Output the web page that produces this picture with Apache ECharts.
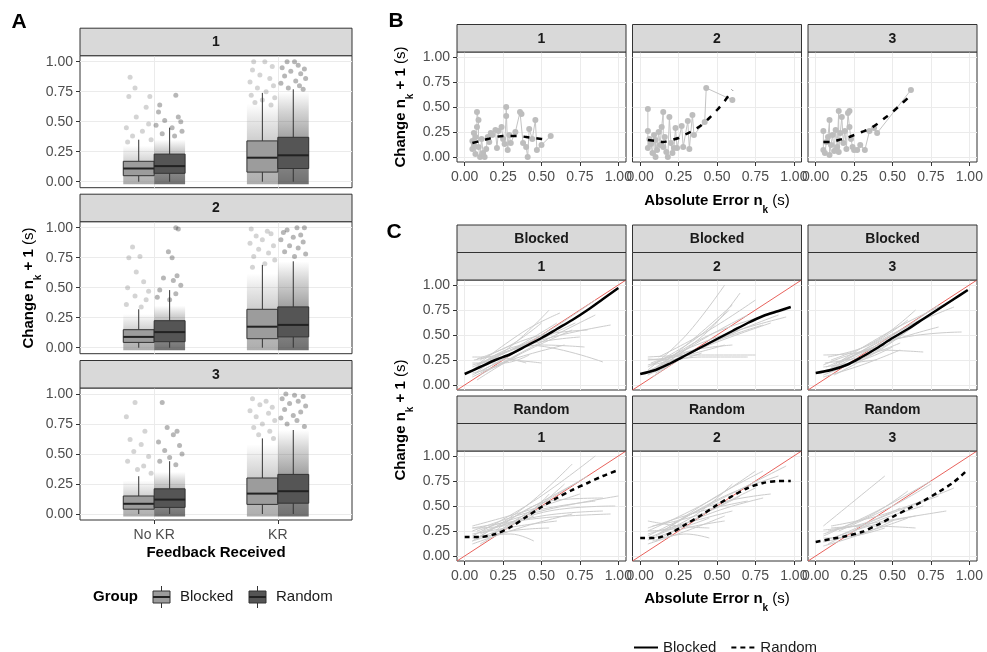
<!DOCTYPE html>
<html>
<head>
<meta charset="utf-8">
<title>Change vs absolute error</title>
<script src="https://cdn.jsdelivr.net/npm/echarts@6/dist/echarts.min.js"></script>
<style>
html, body { margin: 0; padding: 0; background: #ffffff; }
#chart { width: 987px; height: 652px; }
</style>
</head>
<body>
<div id="chart"></div>
<script>
// ---------------- data ----------------
const sessions = ['1', '2', '3'];
const groups = ['Blocked', 'Random'];
const feedback = ['No KR', 'KR'];
const unitTicks = [0, 0.25, 0.5, 0.75, 1];

// Panel A box summaries [lower whisker, Q1, median, Q3, upper whisker]
// order: No KR/Blocked, No KR/Random, KR/Blocked, KR/Random
const boxSession1 = [[0, 0.05, 0.11, 0.17, 0.35], [0, 0.07, 0.13, 0.23, 0.45], [0, 0.08, 0.20, 0.34, 0.74], [0, 0.11, 0.22, 0.37, 0.77]];
const boxSession2 = [[0, 0.044, 0.09, 0.15, 0.32], [0, 0.05, 0.13, 0.225, 0.48], [0, 0.075, 0.175, 0.32, 0.69], [0, 0.09, 0.19, 0.34, 0.72]];
const boxSession3 = [[0, 0.04, 0.085, 0.15, 0.315], [0, 0.055, 0.12, 0.21, 0.44], [0, 0.08, 0.17, 0.30, 0.63], [0, 0.09, 0.19, 0.33, 0.70]];

// upper end of the densely packed jittered observations, same order
const denseSession1 = [0.30, 0.35, 0.65, 0.75];
const denseSession2 = [0.28, 0.35, 0.62, 0.72];
const denseSession3 = [0.28, 0.35, 0.58, 0.70];

// sparse jittered observations above the dense part: [jitter offset, change]
const sparseSession1 = [
  [[-0.07, 0.87], [-0.03, 0.78], [-0.08, 0.71], [0.09, 0.71], [0.06, 0.62], [-0.02, 0.54], [0.08, 0.48], [-0.10, 0.45], [0.03, 0.42], [-0.05, 0.38], [0.10, 0.35], [-0.09, 0.33]],
  [[0.05, 0.72], [-0.08, 0.64], [-0.09, 0.58], [0.07, 0.54], [-0.04, 0.51], [0.09, 0.50], [-0.11, 0.47], [0.02, 0.45], [0.10, 0.42], [-0.06, 0.40], [0.04, 0.38]],
  [[-0.07, 1.00], [0.02, 1.00], [0.08, 0.96], [-0.08, 0.93], [-0.02, 0.89], [0.06, 0.86], [-0.10, 0.83], [0.09, 0.80], [-0.04, 0.78], [0.03, 0.75], [-0.09, 0.72], [0.10, 0.70], [0.00, 0.68], [-0.06, 0.66], [0.07, 0.64]],
  [[-0.05, 1.00], [0.01, 1.00], [0.04, 0.97], [-0.09, 0.95], [0.09, 0.94], [-0.02, 0.92], [0.06, 0.90], [-0.07, 0.88], [0.10, 0.86], [0.02, 0.84], [-0.10, 0.82], [0.05, 0.80], [-0.04, 0.78], [0.08, 0.77]]
];
const sparseSession2 = [
  [[-0.05, 0.84], [0.01, 0.76], [-0.08, 0.75], [-0.02, 0.63], [0.04, 0.55], [-0.09, 0.50], [0.08, 0.47], [-0.03, 0.43], [0.06, 0.40], [-0.10, 0.36], [0.02, 0.34]],
  [[0.05, 1.00], [0.07, 0.99], [-0.01, 0.80], [0.02, 0.75], [0.06, 0.60], [-0.05, 0.58], [0.03, 0.56], [0.09, 0.52], [-0.08, 0.48], [0.05, 0.45], [-0.10, 0.42], [0.00, 0.40]],
  [[-0.09, 0.99], [0.04, 0.97], [0.07, 0.95], [-0.05, 0.93], [0.00, 0.90], [-0.10, 0.87], [0.09, 0.85], [-0.03, 0.82], [0.05, 0.79], [-0.07, 0.76], [0.10, 0.73], [0.02, 0.70], [-0.08, 0.67]],
  [[-0.05, 0.98], [0.03, 1.00], [0.09, 1.00], [-0.08, 0.96], [0.06, 0.94], [0.00, 0.92], [-0.10, 0.90], [0.08, 0.88], [-0.03, 0.85], [0.04, 0.83], [-0.07, 0.80], [0.10, 0.78], [0.01, 0.76]]
];
const sparseSession3 = [
  [[-0.03, 0.93], [-0.10, 0.81], [0.05, 0.69], [-0.07, 0.62], [0.02, 0.58], [-0.04, 0.52], [0.08, 0.48], [-0.09, 0.44], [0.04, 0.40], [-0.01, 0.37], [0.10, 0.34]],
  [[-0.06, 0.93], [-0.02, 0.72], [0.06, 0.69], [0.03, 0.66], [-0.09, 0.60], [0.08, 0.57], [-0.04, 0.53], [0.10, 0.50], [0.00, 0.47], [-0.08, 0.44], [0.05, 0.41]],
  [[-0.08, 0.96], [0.03, 0.94], [-0.02, 0.91], [0.08, 0.89], [-0.10, 0.86], [0.05, 0.84], [-0.05, 0.81], [0.10, 0.78], [0.00, 0.75], [-0.07, 0.72], [0.06, 0.69], [-0.03, 0.66], [0.09, 0.63]],
  [[-0.06, 1.00], [0.01, 0.99], [0.08, 0.98], [-0.09, 0.96], [0.04, 0.94], [-0.03, 0.92], [0.10, 0.90], [-0.07, 0.87], [0.06, 0.85], [0.00, 0.82], [-0.10, 0.80], [0.03, 0.78], [-0.05, 0.75], [0.09, 0.73]]
];

// Panel B: one participant's trials [absolute error, change] and the smoothed trend
const bPoints1 = [[0.05, 0.08], [0.05, 0.16], [0.06, 0.24], [0.06, 0.12], [0.07, 0.20], [0.07, 0.03], [0.08, 0.30], [0.08, 0.45], [0.09, 0.37], [0.09, 0.10], [0.10, 0.00], [0.11, 0.18], [0.12, 0.04], [0.13, 0.00], [0.14, 0.08], [0.15, 0.20], [0.16, 0.15], [0.17, 0.24], [0.18, 0.22], [0.20, 0.27], [0.21, 0.09], [0.22, 0.26], [0.24, 0.30], [0.25, 0.18], [0.26, 0.13], [0.27, 0.41], [0.27, 0.50], [0.28, 0.07], [0.29, 0.22], [0.30, 0.14], [0.33, 0.25], [0.36, 0.45], [0.37, 0.43], [0.38, 0.14], [0.40, 0.10], [0.41, 0.00], [0.42, 0.28], [0.44, 0.18], [0.46, 0.37], [0.47, 0.07], [0.50, 0.12], [0.56, 0.21]];
const bPoints2 = [[0.05, 0.48], [0.05, 0.26], [0.05, 0.09], [0.06, 0.18], [0.07, 0.13], [0.08, 0.04], [0.09, 0.22], [0.10, 0.00], [0.10, 0.17], [0.11, 0.07], [0.12, 0.25], [0.13, 0.12], [0.14, 0.30], [0.15, 0.45], [0.15, 0.10], [0.16, 0.20], [0.17, 0.05], [0.18, 0.00], [0.19, 0.40], [0.20, 0.14], [0.21, 0.04], [0.22, 0.09], [0.23, 0.29], [0.24, 0.09], [0.27, 0.31], [0.28, 0.10], [0.31, 0.36], [0.32, 0.08], [0.34, 0.42], [0.35, 0.22], [0.42, 0.35], [0.43, 0.69], [0.60, 0.57]];
const bPoints3 = [[0.05, 0.26], [0.05, 0.07], [0.06, 0.04], [0.07, 0.15], [0.08, 0.20], [0.09, 0.37], [0.09, 0.02], [0.10, 0.12], [0.11, 0.22], [0.12, 0.06], [0.13, 0.27], [0.14, 0.10], [0.15, 0.46], [0.15, 0.05], [0.16, 0.24], [0.17, 0.40], [0.18, 0.14], [0.19, 0.26], [0.20, 0.08], [0.21, 0.44], [0.22, 0.46], [0.22, 0.30], [0.23, 0.18], [0.24, 0.10], [0.25, 0.07], [0.27, 0.07], [0.29, 0.12], [0.32, 0.07], [0.35, 0.26], [0.38, 0.29], [0.40, 0.24], [0.62, 0.67]];
const bTrend1 = [[0.05, 0.14], [0.10, 0.16], [0.15, 0.18], [0.20, 0.20], [0.25, 0.21], [0.30, 0.21], [0.35, 0.21], [0.40, 0.20], [0.45, 0.19], [0.50, 0.18], [0.55, 0.17]];
const bTrend2 = [[0.05, 0.17], [0.10, 0.16], [0.15, 0.15], [0.20, 0.17], [0.25, 0.19], [0.30, 0.23], [0.35, 0.27], [0.40, 0.32], [0.45, 0.39], [0.50, 0.47], [0.55, 0.56], [0.60, 0.67]];
const bTrend3 = [[0.05, 0.15], [0.10, 0.15], [0.15, 0.17], [0.20, 0.19], [0.25, 0.22], [0.30, 0.25], [0.35, 0.28], [0.40, 0.33], [0.45, 0.39], [0.50, 0.45], [0.55, 0.52], [0.60, 0.59]];

// Panel C: group mean curves [absolute error, change]
const cBlocked1 = [[0.0, 0.11], [0.1, 0.18], [0.2, 0.25], [0.3, 0.31], [0.4, 0.39], [0.5, 0.47], [0.6, 0.56], [0.7, 0.65], [0.8, 0.75], [0.9, 0.86], [1.0, 0.97]];
const cBlocked2 = [[0.0, 0.11], [0.1, 0.15], [0.2, 0.22], [0.3, 0.30], [0.4, 0.38], [0.5, 0.46], [0.6, 0.54], [0.7, 0.62], [0.8, 0.69], [0.9, 0.74], [0.98, 0.78]];
const cBlocked3 = [[0.0, 0.12], [0.1, 0.15], [0.2, 0.20], [0.3, 0.28], [0.4, 0.37], [0.5, 0.47], [0.6, 0.56], [0.7, 0.66], [0.8, 0.76], [0.9, 0.86], [0.99, 0.95]];
const cRandom1 = [[0.0, 0.19], [0.1, 0.19], [0.2, 0.22], [0.3, 0.29], [0.4, 0.39], [0.5, 0.49], [0.6, 0.58], [0.7, 0.66], [0.8, 0.73], [0.9, 0.80], [1.0, 0.86]];
const cRandom2 = [[0.0, 0.18], [0.1, 0.18], [0.2, 0.23], [0.3, 0.32], [0.4, 0.41], [0.5, 0.51], [0.6, 0.60], [0.7, 0.68], [0.8, 0.73], [0.9, 0.75], [0.98, 0.75]];
const cRandom3 = [[0.0, 0.14], [0.1, 0.17], [0.2, 0.20], [0.3, 0.24], [0.4, 0.31], [0.5, 0.39], [0.6, 0.47], [0.7, 0.55], [0.8, 0.64], [0.9, 0.74], [0.98, 0.85]];

// Panel C: individual participant curves
const cLinesBlocked1 = [
  [[0.05, 0.10], [0.30, 0.30], [0.55, 0.55]], [[0.05, 0.18], [0.30, 0.35], [0.60, 0.62]], [[0.06, 0.25], [0.25, 0.32], [0.45, 0.45]],
  [[0.05, 0.28], [0.20, 0.28], [0.40, 0.22]], [[0.08, 0.05], [0.35, 0.30], [0.70, 0.55]], [[0.05, 0.15], [0.40, 0.40], [0.90, 0.23]],
  [[0.10, 0.22], [0.50, 0.45], [0.95, 0.60]], [[0.07, 0.12], [0.35, 0.45], [0.55, 0.75]], [[0.08, 0.20], [0.40, 0.55], [0.62, 0.72]],
  [[0.05, 0.08], [0.30, 0.25], [0.65, 0.40]], [[0.10, 0.25], [0.45, 0.48], [0.80, 0.55]], [[0.06, 0.14], [0.35, 0.38], [0.75, 0.48]],
  [[0.15, 0.25], [0.50, 0.50], [0.85, 0.85]], [[0.05, 0.20], [0.25, 0.25], [0.50, 0.22]], [[0.12, 0.15], [0.45, 0.42], [0.72, 0.62]],
  [[0.05, 0.12], [0.20, 0.18], [0.35, 0.30]], [[0.20, 0.30], [0.50, 0.40], [0.78, 0.38]], [[0.08, 0.26], [0.30, 0.40], [0.50, 0.62]],
  [[0.05, 0.22], [0.25, 0.22], [0.42, 0.30]], [[0.10, 0.10], [0.40, 0.35], [0.85, 0.70]]
];
const cLinesBlocked2 = [
  [[0.05, 0.15], [0.30, 0.50], [0.55, 1.00]], [[0.05, 0.10], [0.30, 0.40], [0.60, 0.80]], [[0.05, 0.28], [0.40, 0.30], [0.75, 0.30]],
  [[0.08, 0.20], [0.40, 0.28], [0.70, 0.28]], [[0.05, 0.12], [0.45, 0.50], [0.95, 0.75]], [[0.10, 0.22], [0.50, 0.48], [0.95, 0.68]],
  [[0.05, 0.18], [0.35, 0.45], [0.58, 0.75]], [[0.08, 0.08], [0.40, 0.38], [0.80, 0.60]], [[0.05, 0.25], [0.30, 0.30], [0.55, 0.40]],
  [[0.10, 0.15], [0.40, 0.45], [0.70, 0.70]], [[0.05, 0.20], [0.35, 0.35], [0.65, 0.55]], [[0.12, 0.28], [0.45, 0.55], [0.75, 0.85]],
  [[0.05, 0.10], [0.25, 0.25], [0.45, 0.42]], [[0.07, 0.22], [0.35, 0.35], [0.60, 0.40]], [[0.05, 0.14], [0.45, 0.40], [0.85, 0.62]],
  [[0.15, 0.20], [0.45, 0.55], [0.65, 0.92]], [[0.05, 0.26], [0.20, 0.25], [0.40, 0.32]], [[0.10, 0.12], [0.50, 0.45], [0.90, 0.70]]
];
const cLinesBlocked3 = [
  [[0.05, 0.12], [0.40, 0.40], [0.80, 0.80]], [[0.05, 0.20], [0.40, 0.35], [0.70, 0.33]], [[0.08, 0.15], [0.50, 0.45], [0.95, 0.53]],
  [[0.05, 0.30], [0.25, 0.32], [0.45, 0.40]], [[0.10, 0.18], [0.50, 0.55], [0.90, 0.85]], [[0.05, 0.10], [0.35, 0.30], [0.60, 0.55]],
  [[0.06, 0.22], [0.30, 0.28], [0.55, 0.42]], [[0.12, 0.10], [0.45, 0.38], [0.75, 0.72]], [[0.05, 0.18], [0.30, 0.25], [0.50, 0.38]],
  [[0.08, 0.28], [0.35, 0.40], [0.60, 0.65]], [[0.15, 0.22], [0.50, 0.50], [0.85, 0.80]], [[0.05, 0.14], [0.25, 0.22], [0.40, 0.25]],
  [[0.10, 0.25], [0.40, 0.45], [0.65, 0.75]], [[0.05, 0.08], [0.30, 0.20], [0.55, 0.35]], [[0.20, 0.25], [0.55, 0.55], [0.90, 0.78]],
  [[0.07, 0.18], [0.45, 0.42], [0.80, 0.58]]
];
const cLinesRandom1 = [
  [[0.05, 0.20], [0.45, 0.55], [0.85, 1.00]], [[0.05, 0.15], [0.40, 0.50], [0.70, 0.92]], [[0.08, 0.25], [0.50, 0.45], [1.00, 0.60]],
  [[0.05, 0.28], [0.50, 0.38], [0.95, 0.42]], [[0.10, 0.22], [0.55, 0.45], [0.98, 0.50]], [[0.05, 0.18], [0.30, 0.22], [0.45, 0.15]],
  [[0.05, 0.30], [0.40, 0.45], [0.75, 0.62]], [[0.10, 0.12], [0.40, 0.40], [0.65, 0.72]], [[0.05, 0.22], [0.35, 0.30], [0.60, 0.35]],
  [[0.15, 0.18], [0.50, 0.52], [0.80, 0.80]], [[0.05, 0.25], [0.45, 0.45], [0.85, 0.55]], [[0.08, 0.18], [0.35, 0.35], [0.55, 0.62]],
  [[0.05, 0.15], [0.30, 0.25], [0.55, 0.28]], [[0.20, 0.25], [0.55, 0.55], [0.90, 0.58]], [[0.05, 0.28], [0.25, 0.30], [0.45, 0.40]],
  [[0.10, 0.20], [0.45, 0.50], [0.75, 0.75]], [[0.05, 0.12], [0.40, 0.30], [0.70, 0.42]], [[0.12, 0.25], [0.50, 0.40], [0.90, 0.45]]
];
const cLinesRandom2 = [
  [[0.05, 0.35], [0.25, 0.30], [0.45, 0.28]], [[0.05, 0.20], [0.50, 0.55], [0.95, 0.90]], [[0.08, 0.15], [0.30, 0.22], [0.45, 0.18]],
  [[0.05, 0.25], [0.45, 0.55], [0.75, 0.85]], [[0.10, 0.20], [0.50, 0.45], [0.80, 0.58]], [[0.05, 0.18], [0.35, 0.40], [0.60, 0.72]],
  [[0.05, 0.28], [0.40, 0.45], [0.70, 0.55]], [[0.12, 0.22], [0.45, 0.50], [0.85, 0.62]], [[0.05, 0.12], [0.30, 0.25], [0.55, 0.40]],
  [[0.15, 0.25], [0.50, 0.60], [0.80, 0.85]], [[0.05, 0.22], [0.35, 0.35], [0.60, 0.45]], [[0.08, 0.30], [0.40, 0.42], [0.65, 0.60]],
  [[0.05, 0.16], [0.30, 0.28], [0.55, 0.35]], [[0.20, 0.30], [0.55, 0.60], [0.90, 0.80]], [[0.05, 0.25], [0.25, 0.28], [0.45, 0.38]],
  [[0.10, 0.15], [0.45, 0.45], [0.75, 0.68]]
];
const cLinesRandom3 = [
  [[0.05, 0.30], [0.25, 0.55], [0.45, 0.80]], [[0.05, 0.20], [0.40, 0.45], [0.75, 0.75]], [[0.08, 0.25], [0.45, 0.35], [0.85, 0.45]],
  [[0.05, 0.15], [0.35, 0.30], [0.65, 0.40]], [[0.10, 0.28], [0.35, 0.30], [0.65, 0.28]], [[0.05, 0.10], [0.30, 0.22], [0.50, 0.35]],
  [[0.05, 0.22], [0.35, 0.40], [0.60, 0.65]], [[0.12, 0.18], [0.45, 0.40], [0.80, 0.60]], [[0.05, 0.26], [0.30, 0.32], [0.55, 0.48]],
  [[0.08, 0.12], [0.40, 0.35], [0.70, 0.50]], [[0.15, 0.25], [0.50, 0.50], [0.75, 0.72]], [[0.05, 0.18], [0.25, 0.20], [0.45, 0.28]],
  [[0.10, 0.30], [0.45, 0.42], [0.90, 0.68]], [[0.05, 0.14], [0.35, 0.25], [0.60, 0.38]]
];

// ---------------- look & layout ----------------
const FONT = '"Liberation Sans", Arial, Helvetica, sans-serif';
const INK = '#333333';
const GRID_LINE = '#ebebeb';
const STRIP_FILL = '#d9d9d9';
const TICK_TEXT = '#4d4d4d';
const boxFill = ['#9c9c9c', '#555555'];
const pointColor = ['rgba(135,135,135,0.45)', 'rgba(55,55,55,0.45)'];
const bandRGB = ['150,150,150', '72,72,72'];

const AX_MIN = -0.05, AX_MAX = 1.05;   // 5% padding round the 0-1 range
const CAT_MIN = 0.4, CAT_MAX = 2.6;    // discrete axis padding
const BOX_HALF = 0.125;

const LAYOUT = {
  aLeft: 80, aWidth: 272, aTops: [55.7, 221.7, 388], aHeight: 132,
  fLefts: [457, 632.5, 808], fWidth: 169, fHeight: 110,
  bTop: 52, cTops: [280, 451], strip: 27.5
};

const grid = [], xAxis = [], yAxis = [], series = [], graphic = [];
const fmt2 = v => v.toFixed(2);

function axisCfg(gi, min, max, ticks, fmt, showTicks, margin) {
  return {
    type: 'value', gridIndex: gi, min, max,
    axisLine: { show: false, onZero: false },
    axisTick: { show: showTicks, length: 4, customValues: ticks, lineStyle: { color: INK, width: 1 } },
    axisLabel: { show: showTicks, customValues: ticks, formatter: fmt, color: TICK_TEXT, fontSize: 14, fontFamily: FONT, margin },
    splitLine: { show: true, lineStyle: { color: GRID_LINE, width: 1 } }
  };
}

function addGrid(left, top, width, height) {
  grid.push({ left, top, width, height, show: true, borderColor: INK, borderWidth: 1, backgroundColor: '#ffffff' });
  return grid.length - 1;
}

function strip(x, y, w, h, label) {
  graphic.push({ type: 'rect', z: 50, shape: { x, y, width: w, height: h }, style: { fill: STRIP_FILL, stroke: INK, lineWidth: 1 } });
  graphic.push({ type: 'text', z: 51, x: x + w / 2, y: y + h / 2 + 0.5,
    style: { text: label, font: 'bold 14px ' + FONT, fill: '#1a1a1a', align: 'center', verticalAlign: 'middle', textAlign: 'center', textVerticalAlign: 'middle' } });
}

function mathTitle(parts, x, y, rotate) {
  const rich = {
    b: { fontFamily: FONT, fontSize: 15, fontWeight: 'bold', fill: '#000', lineHeight: 22, verticalAlign: 'top' },
    k: { fontFamily: FONT, fontSize: 10, fontWeight: 'bold', fill: '#000', lineHeight: 12, verticalAlign: 'bottom' },
    r: { fontFamily: FONT, fontSize: 15, fontWeight: 'normal', fill: '#000', lineHeight: 22, verticalAlign: 'top' }
  };
  const text = parts.map(([s, t]) => '{' + s + '|' + t + '}').join('');
  graphic.push({ type: 'text', z: 60, x, y, rotation: rotate ? Math.PI / 2 : 0,
    style: { text, rich, align: 'center', verticalAlign: 'middle', textAlign: 'center', textVerticalAlign: 'middle' } });
}

// ---------------- panel A: boxplots over jittered observations ----------------
const boxBySession = [boxSession1, boxSession2, boxSession3];
const denseBySession = [denseSession1, denseSession2, denseSession3];
const sparseBySession = [sparseSession1, sparseSession2, sparseSession3];
const boxX = k => (k >> 1) + 1 + ((k & 1) ? BOX_HALF : -BOX_HALF);

function bandRender(params, api) {
  const x = api.value(0), top = api.value(1), g = api.value(2);
  const a = api.coord([x - BOX_HALF, top]);
  const b = api.coord([x + BOX_HALF, 0]);
  const c = bandRGB[g];
  return {
    type: 'rect',
    shape: { x: a[0], y: a[1], width: b[0] - a[0], height: b[1] - a[1] + 2.5 },
    style: { fill: new echarts.graphic.LinearGradient(0, 1, 0, 0, [
      { offset: 0, color: 'rgba(' + c + ',0.78)' },
      { offset: 0.45, color: 'rgba(' + c + ',0.55)' },
      { offset: 0.8, color: 'rgba(' + c + ',0.22)' },
      { offset: 1, color: 'rgba(' + c + ',0)' }]) }
  };
}

function boxRender(params, api) {
  const x = api.value(0), lo = api.value(1), q1 = api.value(2), med = api.value(3), q3 = api.value(4), hi = api.value(5), g = api.value(6);
  const a = api.coord([x - BOX_HALF, q3]);
  const b = api.coord([x + BOX_HALF, q1]);
  const top = api.coord([x, hi]);
  const bot = api.coord([x, lo]);
  const m = api.coord([x, med]);
  return {
    type: 'group',
    children: [
      { type: 'line', shape: { x1: top[0], y1: top[1], x2: top[0], y2: a[1] }, style: { stroke: INK, lineWidth: 1 } },
      { type: 'line', shape: { x1: top[0], y1: b[1], x2: top[0], y2: bot[1] }, style: { stroke: INK, lineWidth: 1 } },
      { type: 'rect', shape: { x: a[0], y: a[1], width: b[0] - a[0], height: b[1] - a[1] }, style: { fill: boxFill[g], stroke: INK, lineWidth: 1 } },
      { type: 'line', shape: { x1: a[0], y1: m[1], x2: b[0], y2: m[1] }, style: { stroke: '#222', lineWidth: 2 } }
    ]
  };
}

sessions.forEach((s, i) => {
  const top = LAYOUT.aTops[i];
  const gi = addGrid(LAYOUT.aLeft, top, LAYOUT.aWidth, LAYOUT.aHeight);
  const last = i === sessions.length - 1;
  xAxis.push(axisCfg(gi, CAT_MIN, CAT_MAX, [1, 2], v => feedback[Math.round(v) - 1], last, 8));
  yAxis.push(axisCfg(gi, AX_MIN, AX_MAX, unitTicks, fmt2, true, 7));
  strip(LAYOUT.aLeft, top - LAYOUT.strip, LAYOUT.aWidth, LAYOUT.strip, s);

  series.push({ type: 'custom', xAxisIndex: gi, yAxisIndex: gi, silent: true, z: 1,
    data: denseBySession[i].map((t, k) => [boxX(k), t, k & 1]), renderItem: bandRender });

  groups.forEach((g, gIdx) => {
    const pts = [];
    sparseBySession[i].forEach((list, k) => {
      if ((k & 1) === gIdx) list.forEach(([o, v]) => pts.push([boxX(k) + o, v]));
    });
    series.push({ type: 'scatter', name: g + ' trials', xAxisIndex: gi, yAxisIndex: gi, silent: true, z: 2,
      symbolSize: 5, itemStyle: { color: pointColor[gIdx] }, data: pts });
  });

  series.push({ type: 'custom', xAxisIndex: gi, yAxisIndex: gi, silent: true, z: 3,
    data: boxBySession[i].map((b, k) => [boxX(k)].concat(b, [k & 1])), renderItem: boxRender });
});

// ---------------- panel C: participant curves and group means ----------------
const identity = [[AX_MIN, AX_MIN], [AX_MAX, AX_MAX]];
const cMeans = [[cBlocked1, cBlocked2, cBlocked3], [cRandom1, cRandom2, cRandom3]];
const cLines = [[cLinesBlocked1, cLinesBlocked2, cLinesBlocked3], [cLinesRandom1, cLinesRandom2, cLinesRandom3]];

groups.forEach((grp, r) => {
  const top = LAYOUT.cTops[r];
  sessions.forEach((s, j) => {
    const left = LAYOUT.fLefts[j];
    const gi = addGrid(left, top, LAYOUT.fWidth, LAYOUT.fHeight);
    xAxis.push(axisCfg(gi, AX_MIN, AX_MAX, unitTicks, fmt2, r === groups.length - 1, 8));
    yAxis.push(axisCfg(gi, AX_MIN, AX_MAX, unitTicks, fmt2, j === 0, 7));
    strip(left, top - 2 * LAYOUT.strip, LAYOUT.fWidth, LAYOUT.strip, grp);
    strip(left, top - LAYOUT.strip, LAYOUT.fWidth, LAYOUT.strip, s);

    series.push({ type: 'line', name: 'identity', xAxisIndex: gi, yAxisIndex: gi, silent: true, z: 2,
      symbol: 'none', data: identity, lineStyle: { color: '#e8625c', width: 1 } });
    cLines[r][j].forEach((ln, n) => {
      series.push({ type: 'line', name: 'participant ' + (n + 1), xAxisIndex: gi, yAxisIndex: gi, silent: true, z: 3,
        symbol: 'none', smooth: 0.4, data: ln, lineStyle: { color: '#cccccc', width: 1 } });
    });
    series.push({ type: 'line', name: grp, xAxisIndex: gi, yAxisIndex: gi, silent: true, z: 5,
      symbol: 'none', smooth: 0.3, data: cMeans[r][j], itemStyle: { color: '#000000' },
      lineStyle: { color: '#000000', width: 2.5, type: r === 0 ? 'solid' : [5, 4] } });
  });
});

// ---------------- panel B: single participant ----------------
const bPointsBySession = [bPoints1, bPoints2, bPoints3];
const bTrendBySession = [bTrend1, bTrend2, bTrend3];
sessions.forEach((s, j) => {
  const left = LAYOUT.fLefts[j];
  const gi = addGrid(left, LAYOUT.bTop, LAYOUT.fWidth, LAYOUT.fHeight);
  xAxis.push(axisCfg(gi, AX_MIN, AX_MAX, unitTicks, fmt2, true, 8));
  yAxis.push(axisCfg(gi, AX_MIN, AX_MAX, unitTicks, fmt2, j === 0, 7));
  strip(left, LAYOUT.bTop - LAYOUT.strip, LAYOUT.fWidth, LAYOUT.strip, s);

  series.push({ type: 'line', name: 'trials ' + s, xAxisIndex: gi, yAxisIndex: gi, silent: true, z: 3,
    symbol: 'circle', symbolSize: 6, showSymbol: true, data: bPointsBySession[j],
    itemStyle: { color: '#bdbdbd' }, lineStyle: { color: '#c4c4c4', width: 1 } });
  series.push({ type: 'line', name: 'trend ' + s, xAxisIndex: gi, yAxisIndex: gi, silent: true, z: 5,
    symbol: 'none', smooth: 0.3, data: bTrendBySession[j],
    lineStyle: { color: '#000000', width: 2.5, type: [6, 7] } });
});

// ---------------- titles, panel letters, legends ----------------
const changeTitle = [['b', 'Change n'], ['k', 'k'], ['b', ' + 1 '], ['r', '(s)']];
const errorTitle = [['b', 'Absolute Error n'], ['k', 'k'], ['r', ' (s)']];
mathTitle(changeTitle, 32, 288, true);
mathTitle(changeTitle, 404, 107, true);
mathTitle(changeTitle, 404, 420, true);
mathTitle(errorTitle, 717, 204, false);
mathTitle(errorTitle, 717, 602, false);
graphic.push({ type: 'text', z: 60, x: 216, y: 553,
  style: { text: 'Feedback Received', font: 'bold 15px ' + FONT, fill: '#000', align: 'center', verticalAlign: 'middle', textAlign: 'center', textVerticalAlign: 'middle' } });

[['A', 19, 22], ['B', 396, 21], ['C', 394, 232]].forEach(([t, x, y]) => {
  graphic.push({ type: 'text', z: 60, x, y,
    style: { text: t, font: 'bold 21px ' + FONT, fill: '#000', align: 'center', verticalAlign: 'middle', textAlign: 'center', textVerticalAlign: 'middle' } });
});

// group legend for the boxplots
graphic.push({ type: 'text', z: 60, x: 93, y: 597,
  style: { text: 'Group', font: 'bold 15px ' + FONT, fill: '#000', align: 'left', verticalAlign: 'middle', textAlign: 'left', textVerticalAlign: 'middle' } });
groups.forEach((g, gIdx) => {
  const kx = [153, 249][gIdx];
  graphic.push({ type: 'group', z: 60, children: [
    { type: 'line', shape: { x1: kx + 8.5, y1: 586, x2: kx + 8.5, y2: 608 }, style: { stroke: INK, lineWidth: 1 } },
    { type: 'rect', shape: { x: kx, y: 591, width: 17, height: 12 }, style: { fill: boxFill[gIdx], stroke: INK, lineWidth: 1 } },
    { type: 'line', shape: { x1: kx, y1: 597, x2: kx + 17, y2: 597 }, style: { stroke: '#222', lineWidth: 2 } }
  ] });
  graphic.push({ type: 'text', z: 60, x: kx + 27, y: 597,
    style: { text: g, font: '15px ' + FONT, fill: '#1a1a1a', align: 'left', verticalAlign: 'middle', textAlign: 'left', textVerticalAlign: 'middle' } });
});

const chart = echarts.init(document.getElementById('chart'));
chart.setOption({
  animation: false,
  backgroundColor: '#ffffff',
  grid, xAxis, yAxis, series, graphic,
  legend: {
    data: groups, selectedMode: false, left: 628, top: 635,
    itemWidth: 24, itemHeight: 12, itemGap: 14,
    itemStyle: { opacity: 0 },
    textStyle: { fontFamily: FONT, fontSize: 15, color: '#1a1a1a' }
  }
});
</script>
</body>
</html>
